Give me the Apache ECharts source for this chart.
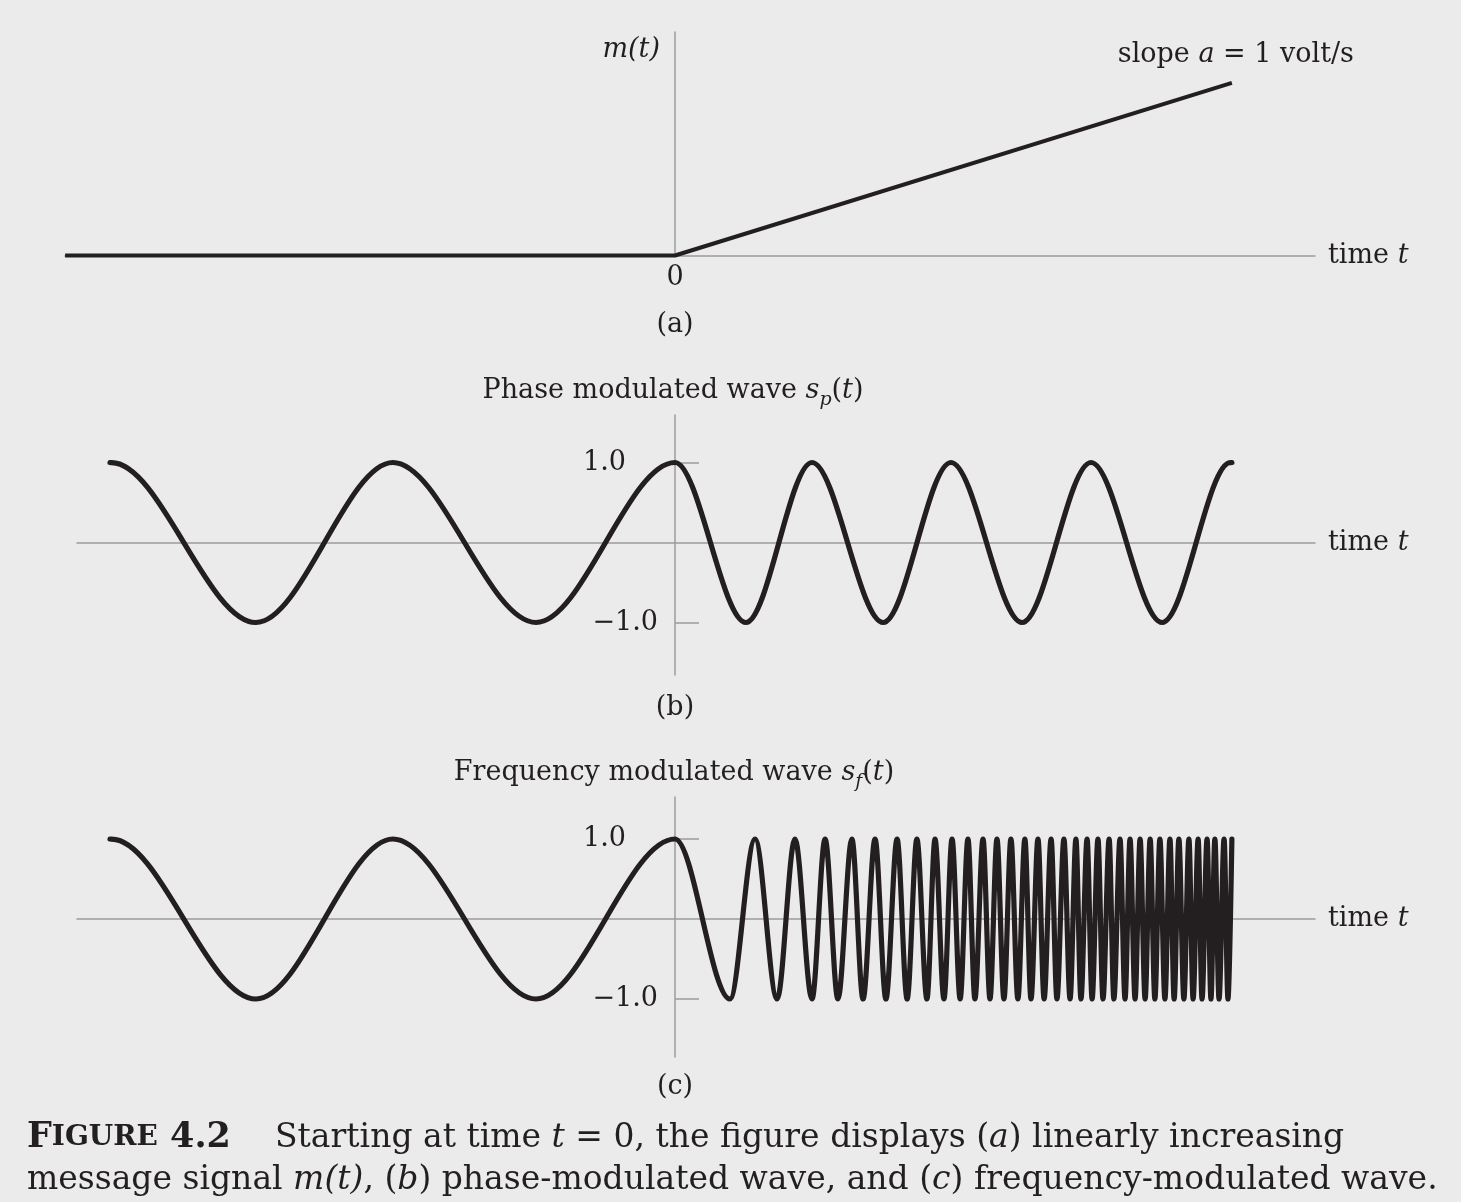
<!DOCTYPE html>
<html>
<head>
<meta charset="utf-8">
<script src="https://cdn.jsdelivr.net/npm/echarts@6/dist/echarts.min.js"></script>
<style>
html,body{margin:0;padding:0;background:#ebebeb;}
#c{width:1461px;height:1202px;}
</style>
</head>
<body>
<div id="c"></div>
<script>
// ---------------- data ----------------
// (a) message signal m(t): zero before t = 0, then slope a = 1
const mTimes  = [-2.186, 0, 1.996];
const mValues = [0, 0, 2.0];

// (b) phase-modulated wave: start, successive peaks / troughs, end
const pmTimes  = [-2.025, -2.019, -1.502, -1.011, -0.498, 0, 0.254, 0.491, 0.746, 0.989, 1.244, 1.491, 1.746, 1.990, 1.996];
const pmValues = [1, 0.998, -1, 1, -1, 1, -1, 1, -1, 1, -1, 1, -1, 0.998, 1];

// (c) frequency-modulated wave: start, successive peaks / troughs
const fmTimes = [-2.025, -2.019, -1.502, -1.011, -0.498, 0,
  0.197, 0.287, 0.366, 0.430, 0.491, 0.538, 0.584, 0.634, 0.674, 0.717,
  0.756, 0.796, 0.832, 0.867, 0.903, 0.932, 0.964, 0.993, 1.022, 1.050,
  1.075, 1.104, 1.129, 1.154, 1.179, 1.204, 1.229, 1.254, 1.276, 1.301,
  1.323, 1.348, 1.369, 1.394, 1.416, 1.437, 1.455, 1.477, 1.495, 1.516,
  1.534, 1.556, 1.573, 1.595, 1.613, 1.631, 1.649, 1.667, 1.685, 1.703,
  1.720, 1.738, 1.756, 1.774, 1.789, 1.806, 1.824, 1.842, 1.857, 1.875,
  1.889, 1.907, 1.921, 1.935, 1.950, 1.968, 1.982, 1.996];
const fmValues = [1, 0.998, -1, 1, -1, 1,
  -1, 1, -1, 1, -1, 1, -1, 1, -1, 1,
  -1, 1, -1, 1, -1, 1, -1, 1, -1, 1,
  -1, 1, -1, 1, -1, 1, -1, 1, -1, 1,
  -1, 1, -1, 1, -1, 1, -1, 1, -1, 1,
  -1, 1, -1, 1, -1, 1, -1, 1, -1, 1,
  -1, 1, -1, 1, -1, 1, -1, 1, -1, 1,
  -1, 1, -1, 1, -1, 1, -1, 1];

const xTickValues = [0];
const yTickValues = [-1, 1];
const yTickLabels = {'-1': '−1.0', '1': '1.0'};

// ---------------- layout / style ----------------
const FONT = 'DejaVu Serif';
const INK = '#231f20';
const AXIS = '#9c9c9c';
const FS = 27;
const T0 = 675, PX = 279;           // pixel of t = 0, pixels per time unit
const gA = {left: 65, top: 32,  width: 1250, height: 223.5};
const gB = {left: 77, top: 415, width: 1238, height: 260};
const gC = {left: 77, top: 797, width: 1238, height: 260};
const xMin = g => (g.left - T0) / PX;
const xMax = g => (g.left + g.width - T0) / PX;
const yRange = (g, zeroPx, unit) => ({max: (zeroPx - g.top) / unit, min: -(g.top + g.height - zeroPx) / unit});
const rB = yRange(gB, 542.5, 80);
const rC = yRange(gC, 919, 80);

const pair = (ts, vs) => ts.map((t, i) => [t, vs[i]]);

const txt = (extra) => Object.assign({fontFamily: FONT, fontSize: FS, color: INK}, extra || {});
const richBase = {
  n: txt(),
  i: txt({fontStyle: 'italic'})
};

function xAxis(idx, g, withZero) {
  return {
    type: 'value', gridIndex: idx, min: xMin(g), max: xMax(g),
    axisLine: {show: true, onZero: true, lineStyle: {color: AXIS, width: 1.5}},
    axisTick: {show: false},
    splitLine: {show: false},
    axisLabel: withZero ? {
      show: true, customValues: xTickValues, margin: 9,
      fontFamily: FONT, fontSize: FS, color: INK,
      formatter: v => String(v)
    } : {show: false},
    name: '{n|time }{i|t}', nameLocation: 'end', nameGap: 13, nameMoveOverlap: false,
    nameTextStyle: {fontFamily: FONT, fontSize: FS, color: INK, rich: richBase}
  };
}

function yAxisWave(idx, g, r) {
  return {
    type: 'value', gridIndex: idx, min: r.min, max: r.max,
    offset: -(T0 - g.left),
    axisLine: {show: true, onZero: false, lineStyle: {color: AXIS, width: 1.5}},
    axisTick: {show: true, customValues: yTickValues, inside: true, length: 24,
               lineStyle: {color: AXIS, width: 1.5}},
    axisLabel: {
      show: true, customValues: yTickValues, margin: 17,
      fontFamily: FONT, fontSize: FS, color: INK,
      formatter: v => v > 0 ? '{p|' + yTickLabels[String(v)] + '}' : yTickLabels[String(v)],
      rich: {p: txt({padding: [0, 32, 0, 0]})}
    },
    splitLine: {show: false}
  };
}

const waveLine = {color: INK, width: 5.2, cap: 'round', join: 'round'};

const subRich = Object.assign({}, richBase, {
  n: txt({lineHeight: 38}),
  i: txt({fontStyle: 'italic', lineHeight: 38}),
  sub: txt({fontStyle: 'italic', fontSize: 19, lineHeight: 19, verticalAlign: 'bottom'})
});

function label(x, y, text, rich) {
  return {
    type: 'text', x: x, y: y, silent: true,
    style: {
      text: text, rich: rich || richBase,
      font: FS + 'px "' + FONT + '"', fill: INK,
      align: 'center', verticalAlign: 'middle',
      textAlign: 'center', textVerticalAlign: 'middle'
    }
  };
}

const capRich = {
  b:  txt({fontSize: 35, fontWeight: 'bold'}),
  bs: txt({fontSize: 28, fontWeight: 'bold'}),
  n:  txt({fontSize: 33}),
  i:  txt({fontSize: 33, fontStyle: 'italic'})
};
function capText(x, y, text) {
  return {
    type: 'text', x: x, y: y, silent: true,
    style: {
      text: text, rich: capRich, font: '33px "' + FONT + '"', fill: INK,
      align: 'left', verticalAlign: 'middle',
      textAlign: 'left', textVerticalAlign: 'middle'
    }
  };
}

const option = {
  backgroundColor: '#ebebeb',
  animation: false,
  textStyle: {fontFamily: FONT},
  grid: [
    Object.assign({outerBoundsMode: 'none', containLabel: false}, gA),
    Object.assign({outerBoundsMode: 'none', containLabel: false}, gB),
    Object.assign({outerBoundsMode: 'none', containLabel: false}, gC)
  ],
  xAxis: [xAxis(0, gA, true), xAxis(1, gB, false), xAxis(2, gC, false)],
  yAxis: [
    {
      type: 'value', gridIndex: 0, min: 0, max: 2.59,
      axisLine: {show: true, onZero: true, lineStyle: {color: AXIS, width: 1.5}},
      axisTick: {show: false}, axisLabel: {show: false}, splitLine: {show: false},
      name: '{i|m(t)}', nameLocation: 'end', nameGap: -4, nameMoveOverlap: false,
      nameTextStyle: {fontFamily: FONT, fontSize: FS, color: INK, align: 'right',
                      verticalAlign: 'top', padding: [0, 15, 0, 0], rich: richBase}
    },
    yAxisWave(1, gB, rB),
    yAxisWave(2, gC, rC)
  ],
  series: [
    {
      type: 'line', xAxisIndex: 0, yAxisIndex: 0, data: pair(mTimes, mValues),
      symbol: 'none', clip: false,
      lineStyle: {color: INK, width: 4, join: 'round'},
      markPoint: {
        symbol: 'circle', symbolSize: 0, silent: true,
        data: [{coord: [mTimes[mTimes.length - 1], mValues[mValues.length - 1]]}],
        label: {show: true, position: 'top', distance: 14, offset: [4, 0],
                formatter: '{n|slope }{i|a}{n| = 1 volt/s}', rich: richBase}
      }
    },
    {
      type: 'line', xAxisIndex: 1, yAxisIndex: 1, data: pair(pmTimes, pmValues),
      symbol: 'none', smooth: 0.333, smoothMonotone: 'x', lineStyle: waveLine
    },
    {
      type: 'line', xAxisIndex: 2, yAxisIndex: 2, data: pair(fmTimes, fmValues),
      symbol: 'none', smooth: 0.333, smoothMonotone: 'x', lineStyle: waveLine
    }
  ],
  graphic: [
    label(675, 325, '{n|(a)}'),
    label(673, 391, '{n|Phase modulated wave }{i|s}{sub|p}{n|(}{i|t}{n|)}', subRich),
    label(675, 708, '{n|(b)}'),
    label(674, 773, '{n|Frequency modulated wave }{i|s}{sub|f}{n|(}{i|t}{n|)}', subRich),
    label(675, 1087, '{n|(c)}'),
    capText(27, 1138, '{b|F}{bs|IGURE}{b| 4.2}'),
    capText(275, 1138, '{n|Starting at time }{i|t}{n| = 0, the figure displays (}{i|a}{n|) linearly increasing}'),
    capText(27, 1180, '{n|message signal }{i|m(t)}{n|, (}{i|b}{n|) phase-modulated wave, and (}{i|c}{n|) frequency-modulated wave.}')
  ]
};

const chart = echarts.init(document.getElementById('c'), null, {renderer: 'canvas'});
chart.setOption(option);
</script>
</body>
</html>
